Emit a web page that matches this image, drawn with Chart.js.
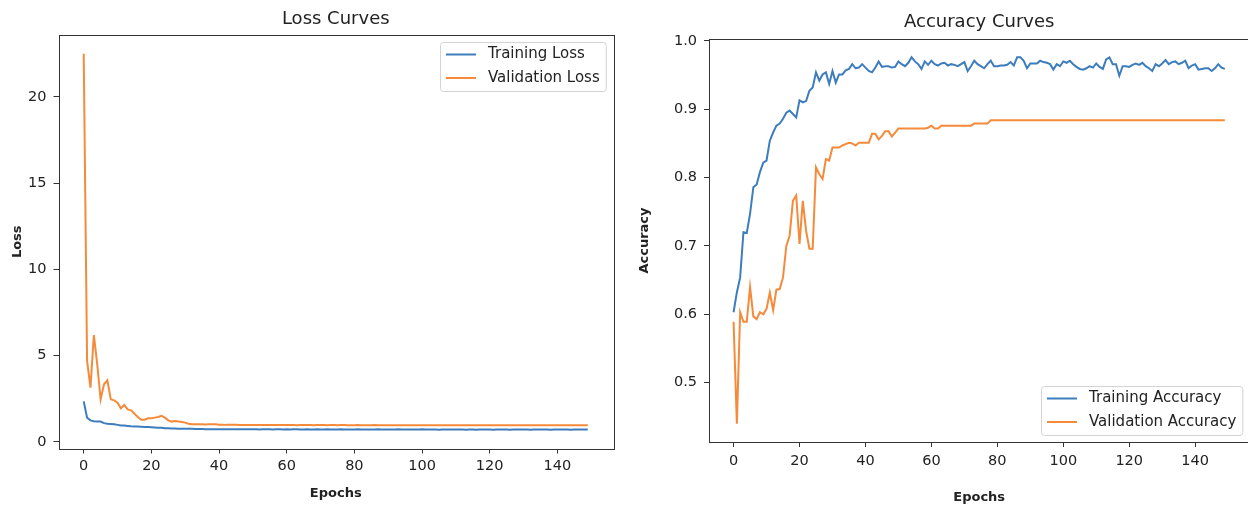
<!DOCTYPE html>
<html>
<head>
<meta charset="utf-8">
<title>Loss and accuracy curves</title>
<script src="https://cdn.jsdelivr.net/npm/chart.js@4.4.1/dist/chart.umd.min.js"></script>
<style>
  html, body { margin: 0; padding: 0; background: #fff; overflow: hidden; }
  body { width: 1248px; height: 508px; position: relative; }
  canvas { position: absolute; top: 0; }
  #lossChart { left: 0; }
  #accChart { left: 624px; }
</style>
</head>
<body>
<canvas id="lossChart" width="624" height="508"></canvas>
<canvas id="accChart" width="640" height="508"></canvas>
<script>
// per-epoch history, 150 epochs
const trainLoss = [
  2.35, 1.40, 1.25, 1.20, 1.18, 1.18, 1.09, 1.06, 1.04, 1.02,
  0.99, 0.96, 0.95, 0.93, 0.91, 0.90, 0.89, 0.88, 0.87, 0.86,
  0.85, 0.84, 0.83, 0.82, 0.80, 0.79, 0.78, 0.78, 0.77, 0.77,
  0.76, 0.76, 0.76, 0.75, 0.75, 0.75, 0.74, 0.74, 0.74, 0.74,
  0.74, 0.73, 0.73, 0.73, 0.74, 0.73, 0.73, 0.73, 0.73, 0.73,
  0.73, 0.73, 0.72, 0.73, 0.73, 0.73, 0.72, 0.73, 0.73, 0.72,
  0.73, 0.72, 0.73, 0.73, 0.72, 0.72, 0.73, 0.72, 0.72, 0.73,
  0.72, 0.72, 0.73, 0.72, 0.72, 0.72, 0.73, 0.72, 0.72, 0.72,
  0.72, 0.73, 0.72, 0.72, 0.72, 0.72, 0.72, 0.73, 0.72, 0.72,
  0.72, 0.72, 0.72, 0.73, 0.72, 0.72, 0.72, 0.72, 0.72, 0.72,
  0.73, 0.72, 0.72, 0.72, 0.72, 0.71, 0.72, 0.72, 0.72, 0.72,
  0.72, 0.72, 0.72, 0.71, 0.72, 0.72, 0.71, 0.72, 0.72, 0.72,
  0.72, 0.71, 0.72, 0.72, 0.72, 0.72, 0.71, 0.72, 0.72, 0.72,
  0.72, 0.72, 0.71, 0.72, 0.72, 0.72, 0.72, 0.72, 0.71, 0.72,
  0.72, 0.72, 0.72, 0.72, 0.71, 0.72, 0.72, 0.72, 0.72, 0.72
];
const valLoss = [
  22.5, 4.70, 3.15, 6.20, 4.50, 2.47, 3.34, 3.57, 2.47, 2.41,
  2.28, 1.95, 2.14, 1.89, 1.83, 1.64, 1.45, 1.29, 1.29, 1.37,
  1.37, 1.41, 1.45, 1.51, 1.41, 1.25, 1.18, 1.22, 1.18, 1.16,
  1.12, 1.06, 1.03, 1.02, 1.02, 1.02, 1.01, 1.03, 1.03, 1.02,
  1.00, 1.00, 0.99, 0.99, 0.99, 0.99, 0.98, 0.98, 0.98, 0.98,
  0.98, 0.98, 0.98, 0.98, 0.98, 0.98, 0.98, 0.98, 0.98, 0.98,
  0.98, 0.98, 0.98, 0.97, 0.98, 0.98, 0.98, 0.98, 0.97, 0.98,
  0.98, 0.98, 0.97, 0.98, 0.98, 0.97, 0.98, 0.98, 0.97, 0.97,
  0.97, 0.98, 0.97, 0.97, 0.97, 0.97, 0.98, 0.97, 0.97, 0.97,
  0.97, 0.97, 0.97, 0.97, 0.97, 0.97, 0.97, 0.97, 0.97, 0.97,
  0.97, 0.97, 0.97, 0.97, 0.97, 0.97, 0.97, 0.97, 0.97, 0.97,
  0.97, 0.97, 0.97, 0.97, 0.97, 0.97, 0.97, 0.97, 0.97, 0.97,
  0.97, 0.97, 0.97, 0.97, 0.97, 0.97, 0.97, 0.97, 0.97, 0.97,
  0.97, 0.97, 0.97, 0.97, 0.97, 0.97, 0.97, 0.97, 0.97, 0.97,
  0.97, 0.97, 0.97, 0.97, 0.97, 0.97, 0.97, 0.97, 0.97, 0.97
];
const trainAcc = [
  0.603, 0.632, 0.654, 0.720, 0.719, 0.747, 0.786, 0.790, 0.808, 0.822,
  0.825, 0.854, 0.866, 0.876, 0.879, 0.886, 0.895, 0.898, 0.893, 0.888,
  0.913, 0.910, 0.912, 0.927, 0.932, 0.954, 0.942, 0.951, 0.954, 0.937,
  0.956, 0.939, 0.951, 0.951, 0.957, 0.959, 0.966, 0.960, 0.961, 0.966,
  0.961, 0.956, 0.954, 0.961, 0.970, 0.962, 0.963, 0.963, 0.961, 0.962,
  0.970, 0.966, 0.963, 0.968, 0.976, 0.970, 0.966, 0.959, 0.970, 0.965,
  0.971, 0.966, 0.964, 0.967, 0.968, 0.964, 0.966, 0.965, 0.963, 0.966,
  0.969, 0.956, 0.963, 0.971, 0.966, 0.963, 0.960, 0.966, 0.971, 0.963,
  0.963, 0.964, 0.964, 0.965, 0.969, 0.964, 0.976, 0.976, 0.971, 0.960,
  0.967, 0.967, 0.967, 0.971, 0.969, 0.968, 0.966, 0.958, 0.966, 0.963,
  0.970, 0.968, 0.971, 0.966, 0.962, 0.959, 0.958, 0.960, 0.963, 0.961,
  0.967, 0.962, 0.959, 0.973, 0.976, 0.966, 0.966, 0.949, 0.963, 0.963,
  0.962, 0.965, 0.967, 0.965, 0.968, 0.963, 0.960, 0.956, 0.966, 0.963,
  0.967, 0.972, 0.966, 0.969, 0.970, 0.966, 0.968, 0.971, 0.960, 0.964,
  0.966, 0.958, 0.959, 0.960, 0.960, 0.956, 0.960, 0.966, 0.961, 0.959
];
const valAcc = [
  0.589, 0.440, 0.603, 0.589, 0.589, 0.640, 0.597, 0.593, 0.603, 0.600,
  0.608, 0.632, 0.606, 0.636, 0.637, 0.654, 0.700, 0.715, 0.766, 0.774,
  0.703, 0.766, 0.722, 0.696, 0.696, 0.815, 0.805, 0.798, 0.827, 0.825,
  0.844, 0.844, 0.844, 0.847, 0.849, 0.851, 0.850, 0.847, 0.851, 0.851,
  0.851, 0.851, 0.864, 0.864, 0.856, 0.861, 0.868, 0.868, 0.860, 0.866,
  0.872, 0.872, 0.872, 0.872, 0.872, 0.872, 0.872, 0.872, 0.872, 0.873,
  0.876, 0.872, 0.872, 0.876, 0.876, 0.876, 0.876, 0.876, 0.876, 0.876,
  0.876, 0.876, 0.876, 0.879, 0.879, 0.879, 0.879, 0.879, 0.884, 0.884,
  0.884, 0.884, 0.884, 0.884, 0.884, 0.884, 0.884, 0.884, 0.884, 0.884,
  0.884, 0.884, 0.884, 0.884, 0.884, 0.884, 0.884, 0.884, 0.884, 0.884,
  0.884, 0.884, 0.884, 0.884, 0.884, 0.884, 0.884, 0.884, 0.884, 0.884,
  0.884, 0.884, 0.884, 0.884, 0.884, 0.884, 0.884, 0.884, 0.884, 0.884,
  0.884, 0.884, 0.884, 0.884, 0.884, 0.884, 0.884, 0.884, 0.884, 0.884,
  0.884, 0.884, 0.884, 0.884, 0.884, 0.884, 0.884, 0.884, 0.884, 0.884,
  0.884, 0.884, 0.884, 0.884, 0.884, 0.884, 0.884, 0.884, 0.884, 0.884
];

const epochTicks = [0, 20, 40, 60, 80, 100, 120, 140];
const lossTicks = [0, 5, 10, 15, 20];
const accTicks = [0.5, 0.6, 0.7, 0.8, 0.9, 1.0];

const epochs = trainLoss.map((_, i) => i);

const BLUE = '#3d7dbd';
const ORANGE = '#f58a3a';
const INK = '#222';
const AXIS = '#333';
const FAMILY = '"DejaVu Sans", sans-serif';

Chart.defaults.font.family = FAMILY;
Chart.defaults.color = INK;

// pad a range by 5% on each side, like matplotlib autoscaling
function padded(lo, hi) {
  const m = (hi - lo) * 0.05;
  return [lo - m, hi + m];
}

// box around the plot area (all four spines)
const frame = {
  id: 'frame',
  afterDraw(chart) {
    const { ctx, chartArea: a } = chart;
    ctx.save();
    ctx.strokeStyle = AXIS;
    ctx.lineWidth = 1;
    ctx.strokeRect(Math.round(a.left) + 0.5, Math.round(a.top) + 0.5,
                   Math.round(a.right - a.left), Math.round(a.bottom - a.top));
    ctx.restore();
  }
};

// legend drawn inside the plot area, in a corner
const boxLegend = {
  id: 'boxLegend',
  afterDraw(chart, args, opts) {
    const { ctx, chartArea: a } = chart;
    const sets = chart.data.datasets;
    ctx.save();
    ctx.font = '15px ' + FAMILY;
    const textW = Math.max(...sets.map(d => ctx.measureText(d.label).width));
    const w = 48 + textW + 6, h = 49, gap = 7;
    const x = Math.round(a.right - gap - w);
    const y = Math.round(opts.corner === 'lower right' ? a.bottom - gap - h : a.top + gap);
    ctx.beginPath();
    ctx.roundRect(x + 0.5, y + 0.5, w, h, 3);
    ctx.fillStyle = 'rgba(255,255,255,0.8)';
    ctx.fill();
    ctx.strokeStyle = '#d3d3d3';
    ctx.lineWidth = 1;
    ctx.stroke();
    ctx.textBaseline = 'middle';
    sets.forEach((d, i) => {
      const cy = y + 12.5 + i * 23.5;
      ctx.strokeStyle = d.borderColor;
      ctx.lineWidth = 2;
      ctx.beginPath();
      ctx.moveTo(x + 6, cy);
      ctx.lineTo(x + 36, cy);
      ctx.stroke();
      ctx.fillStyle = INK;
      ctx.fillText(d.label, x + 48, cy);
    });
    ctx.restore();
  }
};

function tickGrid() {
  return { display: true, drawOnChartArea: false, drawTicks: true, tickLength: 5, tickColor: AXIS, lineWidth: 1 };
}

const [xLo, xHi] = padded(0, epochs.length - 1);
const [lossLo, lossHi] = padded(Math.min(...trainLoss, ...valLoss), Math.max(...trainLoss, ...valLoss));
const [accLo, accHi] = padded(Math.min(...trainAcc, ...valAcc), Math.max(...trainAcc, ...valAcc));

new Chart(document.getElementById('lossChart'), {
  type: 'line',
  data: {
    labels: epochs,
    datasets: [
      { label: 'Training Loss', data: trainLoss, borderColor: BLUE, backgroundColor: BLUE },
      { label: 'Validation Loss', data: valLoss, borderColor: ORANGE, backgroundColor: ORANGE }
    ]
  },
  options: {
    responsive: false,
    animation: false,
    devicePixelRatio: 1,
    layout: { padding: { left: 0, right: 11, top: 0, bottom: 0 } },
    elements: { point: { radius: 0 }, line: { borderWidth: 2, tension: 0 } },
    plugins: {
      legend: { display: false },
      tooltip: { enabled: false },
      title: {
        display: true, text: 'Loss Curves', fullSize: false, color: INK,
        font: { size: 18, weight: 'normal' }, padding: { top: 8.2, bottom: 5.2 }
      },
      boxLegend: { corner: 'upper right' }
    },
    scales: {
      x: {
        type: 'linear', min: xLo, max: xHi,
        afterBuildTicks: s => { s.ticks = epochTicks.map(v => ({ value: v })); },
        afterFit: s => { s.height = 59.5; },
        grid: tickGrid(), border: { display: false },
        ticks: { color: INK, font: { size: 14.5 }, padding: 4, maxRotation: 0 },
        title: { display: true, text: 'Epochs', color: INK, font: { size: 13, weight: 'bold' }, padding: { top: 0, bottom: 7 } }
      },
      y: {
        type: 'linear', min: lossLo, max: lossHi,
        afterBuildTicks: s => { s.ticks = lossTicks.map(v => ({ value: v })); },
        afterFit: s => { s.width = 58.5; },
        grid: tickGrid(), border: { display: false },
        ticks: { color: INK, font: { size: 14.5 }, padding: 7 },
        title: { display: true, text: 'Loss', color: INK, font: { size: 13, weight: 'bold' }, padding: { top: 10, bottom: 0 } }
      }
    }
  },
  plugins: [frame, boxLegend]
});

new Chart(document.getElementById('accChart'), {
  type: 'line',
  data: {
    labels: epochs,
    datasets: [
      { label: 'Training Accuracy', data: trainAcc, borderColor: BLUE, backgroundColor: BLUE },
      { label: 'Validation Accuracy', data: valAcc, borderColor: ORANGE, backgroundColor: ORANGE }
    ]
  },
  options: {
    responsive: false,
    animation: false,
    devicePixelRatio: 1,
    layout: { padding: { left: 0, right: 14.6, top: 0, bottom: 0 } },
    elements: { point: { radius: 0 }, line: { borderWidth: 2, tension: 0 } },
    plugins: {
      legend: { display: false },
      tooltip: { enabled: false },
      title: {
        display: true, text: 'Accuracy Curves', fullSize: false, color: INK,
        font: { size: 18, weight: 'normal' }, padding: { top: 11.2, bottom: 6.2 }
      },
      boxLegend: { corner: 'lower right' }
    },
    scales: {
      x: {
        type: 'linear', min: xLo, max: xHi,
        afterBuildTicks: s => { s.ticks = epochTicks.map(v => ({ value: v })); },
        afterFit: s => { s.height = 66; },
        grid: tickGrid(), border: { display: false },
        ticks: { color: INK, font: { size: 14.5 }, padding: 6, maxRotation: 0 },
        title: { display: true, text: 'Epochs', color: INK, font: { size: 13, weight: 'bold' }, padding: { top: 0, bottom: 3 } }
      },
      y: {
        type: 'linear', min: accLo, max: accHi,
        afterBuildTicks: s => { s.ticks = accTicks.map(v => ({ value: v })); },
        afterFit: s => { s.width = 85; },
        grid: tickGrid(), border: { display: false },
        ticks: { color: INK, font: { size: 14.5 }, padding: 7, callback: v => v.toFixed(1) },
        title: { display: true, text: 'Accuracy', color: INK, font: { size: 13, weight: 'bold' }, padding: { top: 13, bottom: 0 } }
      }
    }
  },
  plugins: [frame, boxLegend]
});
</script>
</body>
</html>
